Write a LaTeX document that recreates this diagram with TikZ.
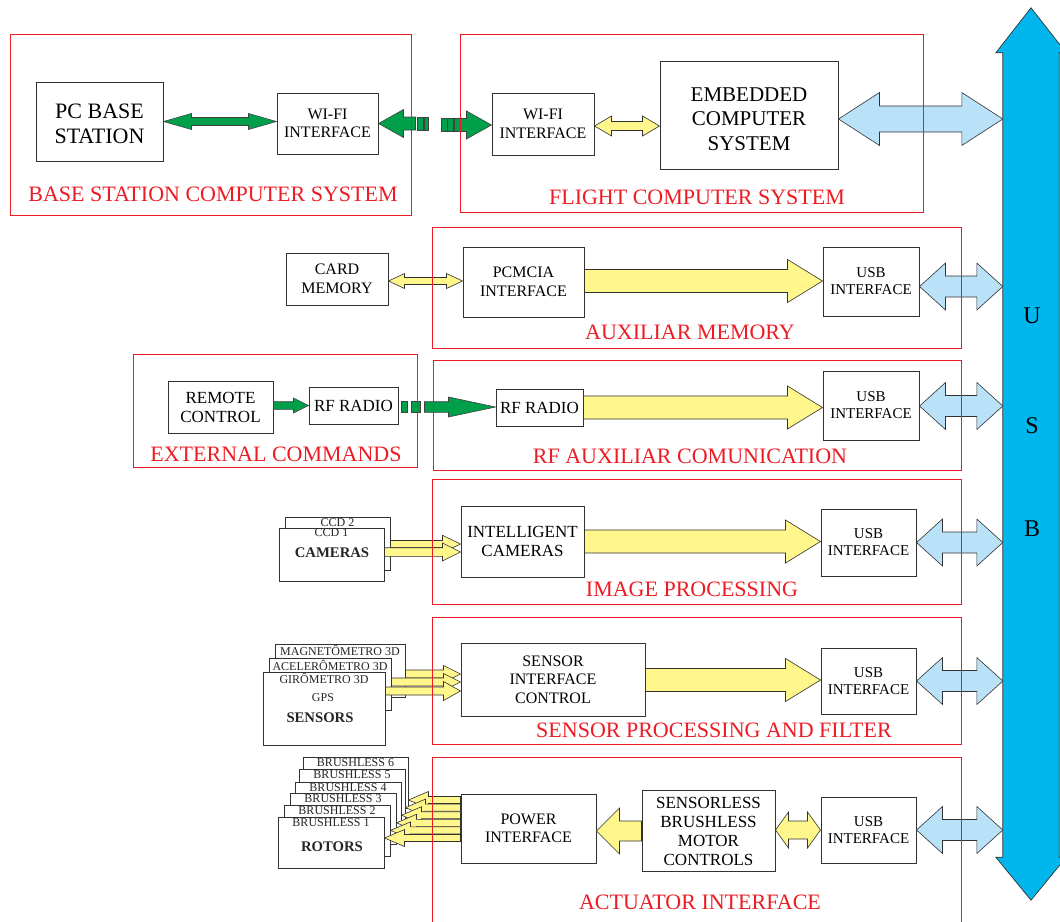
\documentclass[tikz,border=0pt]{standalone}
\usepackage{fontspec}
\setmainfont{Liberation Serif}
\usetikzlibrary{calc}
\definecolor{fred}{RGB}{237,28,36}
\definecolor{grn}{RGB}{0,160,75}
\definecolor{ylw}{RGB}{255,246,140}
\definecolor{lblue}{RGB}{185,226,248}
\definecolor{busc}{RGB}{0,182,236}
\definecolor{edge}{RGB}{50,50,50}
\newcommand\fs[2]{\fontsize{#1}{#2}\selectfont}
% block arrows: #1 start, #2 end, #3 shaft half, #4 head half, #5 head length, #6 style
\newcommand\arrR[6]{\path[#6] let \p1=(#1), \p2=(#2) in (\x1,\y1+#3pt) -- (\x2-#5pt,\y1+#3pt) -- (\x2-#5pt,\y1+#4pt) -- (\x2,\y1) -- (\x2-#5pt,\y1-#4pt) -- (\x2-#5pt,\y1-#3pt) -- (\x1,\y1-#3pt) -- cycle;}
\newcommand\arrL[6]{\path[#6] let \p1=(#1), \p2=(#2) in (\x1,\y1+#3pt) -- (\x2+#5pt,\y1+#3pt) -- (\x2+#5pt,\y1+#4pt) -- (\x2,\y1) -- (\x2+#5pt,\y1-#4pt) -- (\x2+#5pt,\y1-#3pt) -- (\x1,\y1-#3pt) -- cycle;}
\newcommand\arrD[6]{\path[#6] let \p1=(#1), \p2=(#2) in (\x1,\y1) -- (\x1+#5pt,\y1+#4pt) -- (\x1+#5pt,\y1+#3pt) -- (\x2-#5pt,\y1+#3pt) -- (\x2-#5pt,\y1+#4pt) -- (\x2,\y1) -- (\x2-#5pt,\y1-#4pt) -- (\x2-#5pt,\y1-#3pt) -- (\x1+#5pt,\y1-#3pt) -- (\x1+#5pt,\y1-#4pt) -- cycle;}
\tikzset{
  box/.style={draw=edge, line width=1pt, fill=white, inner sep=0pt, align=center, font=\fs{16}{18.5}},
  usbbox/.style={box, minimum width=95pt, minimum height=67pt, font=\fs{15}{17}},
  stackbox/.style={draw=edge, line width=1pt, fill=white, inner sep=0pt},
  bigtxt/.style={inner sep=0pt, align=center},
  smalltxt/.style={inner sep=0pt, font=\fs{12}{13}, text=black!85},
  boldtxt/.style={inner sep=0pt, font=\fs{14.7}{16}\bfseries, text=black!85},
  frame/.style={draw=fred, line width=0.8pt},
  flabel/.style={inner sep=0pt, text=fred, font=\fs{22}{24}},
  garrow/.style={fill=grn, draw=black!75, line width=0.6pt},
  yarrow/.style={fill=ylw, draw=edge, line width=0.6pt},
  barrow/.style={fill=lblue, draw=edge, line width=0.6pt},
}
\begin{document}
\begin{tikzpicture}[x=1pt, y=-1pt]
\useasboundingbox (0,0) rectangle (1060,921);
\fill[white] (0,0) rectangle (1060,921);

% ---------- bus ----------
\node[minimum width=56pt, minimum height=804pt, inner sep=0pt] (bus) at (1031,455) {};
\path[fill=busc, draw=edge, line width=0.7pt] let \p1=(bus.north west), \p2=(bus.south east) in
  (\x1,\y1) -- (\x1-7pt,\y1) -- ({(\x1+\x2)/2},\y1+45pt) -- (\x2+7pt,\y1) -- (\x2,\y1) --
  (\x2,\y2) -- (\x2+7pt,\y2) -- ({(\x1+\x2)/2},\y2-43pt) -- (\x1-7pt,\y2) -- (\x1,\y2) -- cycle;
\node[font=\fs{24}{26}, inner sep=0pt] (bu) at (1032,316) {U};
\node[font=\fs{24}{26}, inner sep=0pt] (bs) at (1032,426) {S};
\node[font=\fs{24}{26}, inner sep=0pt] (bb) at (1032,529) {B};

% ---------- row 1 ----------
\node[box, minimum width=127pt, minimum height=79pt] (pc) at (99.5,121.5) {};
\node[bigtxt, font=\fs{22}{25}] (pct) at ([yshift=-2.5pt]pc.center) {PC BASE\\STATION};
\node[box, minimum width=101pt, minimum height=61pt] (wifiA) at (327.5,123.5) {WI-FI\\INTERFACE};
\node[box, minimum width=102pt, minimum height=62pt] (wifiB) at (543,124) {WI-FI\\INTERFACE};
\node[box, minimum width=178pt, minimum height=108pt] (emb) at (749,115) {};
\node[bigtxt, font=\fs{21}{24.5}] (embt) at ([yshift=-4pt]emb.center) {EMBEDDED\\COMPUTER\\SYSTEM};

\arrD{pc.east}{wifiA.west}{4}{8}{28}{garrow}
% wireless link
\arrL{[xshift=37pt]wifiA.east}{wifiA.east}{6.5}{14}{25}{garrow}
\path[garrow] ([xshift=39pt,yshift=6.5pt]wifiA.east) rectangle ([xshift=45pt,yshift=-6.5pt]wifiA.east);
\path[garrow] ([xshift=46pt,yshift=6.5pt]wifiA.east) rectangle ([xshift=50pt,yshift=-6.5pt]wifiA.east);
\path[garrow] ([xshift=-50pt,yshift=5.5pt]wifiB.west) rectangle ([xshift=-44.5pt,yshift=-7.5pt]wifiB.west);
\path[garrow] ([xshift=-44pt,yshift=5.5pt]wifiB.west) rectangle ([xshift=-38pt,yshift=-7.5pt]wifiB.west);
\arrR{[xshift=-37pt,yshift=-1pt]wifiB.west}{wifiB.west}{6.5}{14}{25}{garrow}
\arrD{[yshift=-2pt]wifiB.east}{emb.west}{4.5}{10}{17}{yarrow}
\arrD{[yshift=-4pt]emb.east}{bus.west}{13}{26.5}{41}{barrow}

% ---------- row 2 ----------
\node[box, minimum width=102pt, minimum height=52pt] (card) at (337,279) {CARD\\MEMORY};
\node[box, minimum width=121pt, minimum height=70pt] (pcmcia) at (523.5,282) {PCMCIA\\INTERFACE};
\node[usbbox, minimum width=96pt, minimum height=69pt] (usb1) at (871,281.5) {USB\\INTERFACE};
\arrD{[yshift=-2pt]card.east}{pcmcia.west}{3.5}{7.5}{16}{yarrow}
\arrR{[yshift=1pt]pcmcia.east}{usb1.west}{11.5}{21.5}{35}{yarrow}
\arrD{[yshift=-5pt]usb1.east}{bus.west}{10.5}{23.5}{26}{barrow}

% ---------- row 3 ----------
\node[box, minimum width=105pt, minimum height=52pt, font=\fs{17}{19}] (remote) at (220.5,407) {REMOTE\\CONTROL};
\node[box, minimum width=89pt, minimum height=37pt, font=\fs{17}{19}] (rfA) at (353.5,405.5) {RF RADIO};
\node[box, minimum width=87pt, minimum height=37pt, font=\fs{17}{19}] (rfB) at (539.5,407.5) {RF RADIO};
\node[usbbox, minimum width=96pt, minimum height=69pt] (usb2) at (871,405.5) {USB\\INTERFACE};
\arrR{[yshift=1.5pt]remote.east}{rfA.west}{3.8}{7.5}{15}{garrow}
\path[garrow] ([xshift=3pt,yshift=3.8pt]rfA.east) rectangle ([xshift=9pt,yshift=-6.8pt]rfA.east);
\path[garrow] ([xshift=13pt,yshift=3.8pt]rfA.east) rectangle ([xshift=22pt,yshift=-6.8pt]rfA.east);
\arrR{[xshift=26pt,yshift=-1.5pt]rfA.east}{rfB.west}{5.3}{10}{47}{garrow}
\arrR{rfB.east}{usb2.west}{11.5}{21.5}{35}{yarrow}
\arrD{[yshift=-0.5pt]usb2.east}{bus.west}{10.5}{23.5}{26}{barrow}

% ---------- row 4 ----------
\node[stackbox, minimum width=105pt, minimum height=53pt] (ccd2) at (337.5,543.5) {};
\node[smalltxt] (tccd2) at ([yshift=-6pt]ccd2.north) {CCD 2};
\node[stackbox, minimum width=105pt, minimum height=53pt] (cam) at (331.5,554.5) {};
\node[smalltxt] (tccd1) at ([yshift=-5pt]cam.north) {CCD 1};
\node[boldtxt] (tcam) at (332,553) {CAMERAS};
\node[box, minimum width=123pt, minimum height=71pt, font=\fs{17}{19}] (intcam) at (522.5,541.5) {INTELLIGENT\\CAMERAS};
\node[usbbox] (usb3) at (868.5,542.5) {USB\\INTERFACE};
\arrR{[yshift=-0.5pt]ccd2.east}{intcam.west}{3.5}{8.7}{18}{yarrow}
\arrR{[yshift=2.5pt]cam.east}{intcam.west}{4.3}{9}{18}{yarrow}
\arrR{intcam.east}{usb3.west}{11.5}{21.5}{35}{yarrow}
\arrD{usb3.east}{bus.west}{10.5}{23.5}{26}{barrow}

% ---------- row 5 ----------
\node[stackbox, minimum width=130pt, minimum height=53pt] (mag) at (340,670.5) {};
\node[smalltxt] (tmag) at ([yshift=-7pt]mag.north) {MAGNETÔMETRO 3D};
\node[stackbox, minimum width=122pt, minimum height=52pt] (acel) at (330,684) {};
\node[smalltxt] (tacel) at ([yshift=-8pt]acel.north) {ACELERÔMETRO 3D};
\node[stackbox, minimum width=122pt, minimum height=73pt] (gir) at (324,708.5) {};
\node[smalltxt] (tgir) at ([yshift=-7pt]gir.north) {GIRÔMETRO 3D};
\node[smalltxt] (tgps) at (323,698) {GPS};
\node[boldtxt] (tsens) at (320,718) {SENSORS};
\node[box, minimum width=184pt, minimum height=73pt] (sic) at (553,679.5) {SENSOR\\INTERFACE\\CONTROL};
\node[usbbox, minimum height=66pt] (usb4) at (868.5,681) {USB\\INTERFACE};
\arrR{[yshift=-3.5pt]mag.east}{sic.west}{4}{8.5}{17}{yarrow}
\arrR{[yshift=2pt]acel.east}{sic.west}{4}{8.5}{17}{yarrow}
\arrR{[yshift=17.5pt]gir.east}{sic.west}{4}{9.5}{17}{yarrow}
\arrR{[yshift=-0.5pt]sic.east}{usb4.west}{11.5}{21.5}{35}{yarrow}
\arrD{usb4.east}{bus.west}{10.5}{23.5}{26}{barrow}

% ---------- row 6 ----------
\node[stackbox, minimum width=105pt, minimum height=51pt] (b6) at (355.5,782.5) {};
\node[smalltxt] (tb6) at ([yshift=-6pt]b6.north) {BRUSHLESS 6};
\node[stackbox, minimum width=106pt, minimum height=51pt] (b5) at (352,794.5) {};
\node[smalltxt] (tb5) at ([yshift=-6pt]b5.north) {BRUSHLESS 5};
\node[stackbox, minimum width=106pt, minimum height=51pt] (b4) at (348,807.5) {};
\node[smalltxt] (tb4) at ([yshift=-6pt]b4.north) {BRUSHLESS 4};
\node[stackbox, minimum width=106pt, minimum height=51pt] (b3) at (343,818.5) {};
\node[smalltxt] (tb3) at ([yshift=-6pt]b3.north) {BRUSHLESS 3};
\node[stackbox, minimum width=106pt, minimum height=51pt] (b2) at (337,830.5) {};
\node[smalltxt] (tb2) at ([yshift=-6pt]b2.north) {BRUSHLESS 2};
\node[stackbox, minimum width=106pt, minimum height=51pt] (b1) at (331,842.5) {};
\node[smalltxt] (tb1) at ([yshift=-6pt]b1.north) {BRUSHLESS 1};
\node[boldtxt] (trot) at (332,847) {ROTORS};
\node[box, minimum width=135pt, minimum height=69pt] (power) at (528.5,828.5) {POWER\\INTERFACE};
\node[box, minimum width=133pt, minimum height=81pt, font=\fs{17}{19}] (smc) at (708.5,831) {SENSORLESS\\BRUSHLESS\\MOTOR\\CONTROLS};
\node[usbbox, minimum height=66pt] (usb5) at (868.5,830) {USB\\INTERFACE};
\arrL{[yshift=28.5pt]power.west}{b6.east}{3.5}{8.5}{20}{yarrow}
\arrL{[yshift=20.9pt]power.west}{b5.east}{3.5}{8.5}{20}{yarrow}
\arrL{[yshift=13.3pt]power.west}{b4.east}{3.5}{8.5}{20}{yarrow}
\arrL{[yshift=5.7pt]power.west}{b3.east}{3.5}{8.5}{20}{yarrow}
\arrL{[yshift=-1.9pt]power.west}{b2.east}{3.5}{8.5}{20}{yarrow}
\arrL{[yshift=-9.5pt]power.west}{b1.east}{3.5}{8.5}{20}{yarrow}
\arrL{[yshift=0pt]smc.west}{power.east}{10}{23}{23}{yarrow}
\arrD{[yshift=1pt]smc.east}{usb5.west}{9}{18}{13}{yarrow}
\arrD{usb5.east}{bus.west}{10.5}{23.5}{26}{barrow}

% ---------- frames ----------
\draw[frame] (10,34) rectangle (411,215);
\node[flabel] (lbase) at (213,194) {BASE STATION COMPUTER SYSTEM};
\draw[frame] (460,34) rectangle (923,212);
\node[flabel] (lflight) at (697,197) {FLIGHT COMPUTER SYSTEM};
\draw[frame] (432,227) rectangle (961,348);
\node[flabel] (lmem) at (690,332) {AUXILIAR MEMORY};
\draw[frame] (133,354) rectangle (417,467);
\node[flabel] (lext) at (276,454) {EXTERNAL COMMANDS};
\draw[frame] (433,360) rectangle (961,470);
\node[flabel] (lrf) at (690,456) {RF AUXILIAR COMUNICATION};
\draw[frame] (432,479) rectangle (961,604);
\node[flabel] (limg) at (692,589) {IMAGE PROCESSING};
\draw[frame] (432,617) rectangle (961,744);
\node[flabel] (lsen) at (714,730) {SENSOR PROCESSING AND FILTER};
\draw[frame] (432,757) rectangle (961,935);
\node[flabel] (lact) at (700,902) {ACTUATOR INTERFACE};
\end{tikzpicture}
\end{document}
